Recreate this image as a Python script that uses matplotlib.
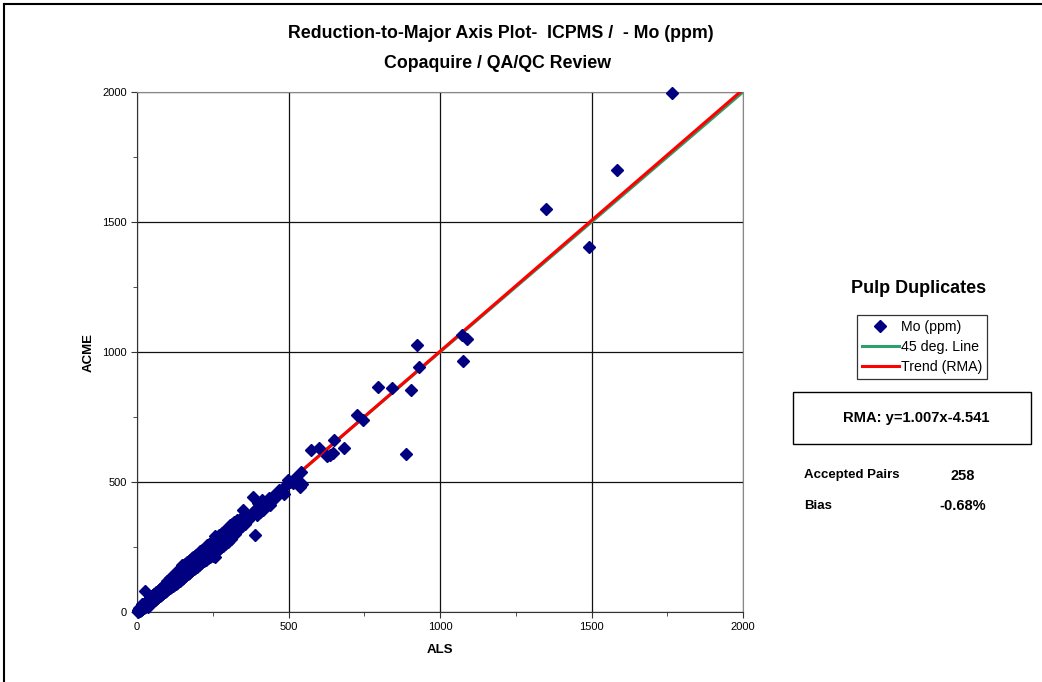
import matplotlib
matplotlib.use('Agg')
import matplotlib.pyplot as plt
from matplotlib.lines import Line2D
from matplotlib.patches import Rectangle
import numpy as np

plt.rcParams['font.family'] = ['Liberation Sans', 'DejaVu Sans']

# ALS (x) vs ACME (y), Mo ppm
als = [2, 3, 4, 5, 6, 7, 8, 9, 10, 11,
       12, 13, 14, 15, 16, 17, 18, 19, 20, 21,
       22, 24, 25, 26, 27, 28, 30, 31, 32, 34,
       35, 36, 38, 40, 41, 43, 45, 46, 48, 50,
       52, 53, 55, 57, 59, 60, 62, 64, 66, 68,
       70, 72, 74, 76, 78, 80, 82, 85, 87, 90,
       92, 95, 97,
       26, 5, 8, 12, 18, 23, 29, 33, 37, 42,
       47, 51, 56, 61, 65, 69, 73, 77, 81, 86,
       91, 96, 99,
       100, 102, 105, 108, 110, 113, 115, 118, 120, 123,
       125, 128, 130, 133, 135, 138, 140, 143, 145, 147,
       148, 150, 153, 155, 158, 160, 163, 165, 168, 170,
       173, 175, 178, 180, 183, 185, 188, 190, 193, 195,
       197, 198, 112, 127, 142, 157, 172, 187,
       200, 204, 208, 212, 216, 220, 224, 228, 232, 235,
       238, 242, 246, 250, 254, 257, 257, 260, 264, 268,
       272, 276, 280, 284, 288, 292, 296, 300, 304, 307,
       310, 314, 317, 320, 325, 330, 235, 248, 262, 286,
       302, 318,
       335, 340, 345, 351, 355, 360, 365, 373, 380, 384,
       389, 392, 395, 400, 405, 411, 417, 422, 428, 435,
       439, 444, 450, 455, 461, 470, 478, 486, 492, 497,
       505, 515, 527, 532, 538, 541, 546, 398, 430, 520,
       574, 601, 628, 637, 648, 650, 684, 725, 747, 795,
       843, 889, 905, 923, 931, 1071, 1076, 1090, 1350, 1492,
       1584, 1766,
       15, 35, 55, 75, 95, 115, 135, 155, 175, 195,
       215, 225, 245, 265, 275, 295, 105, 165, 185, 285]
acme = [4, 1, 8, 2, 10, 3, 14, 5, 16, 6,
        9, 20, 8, 22, 11, 25, 12, 28, 14, 27,
        15, 32, 18, 35, 20, 36, 22, 40, 24, 44,
        26, 46, 28, 50, 31, 54, 35, 57, 38, 60,
        41, 64, 44, 68, 48, 70, 50, 76, 54, 80,
        58, 84, 62, 88, 65, 92, 70, 98, 74, 102,
        78, 108, 82,
        82, 7, 5, 15, 15, 26, 27, 36, 35, 40,
        50, 55, 53, 64, 62, 73, 70, 82, 78, 90,
        87, 100, 95,
        118, 88, 125, 92, 130, 96, 136, 100, 140, 104,
        145, 108, 152, 112, 158, 118, 162, 120, 168, 181,
        126, 175, 132, 180, 138, 186, 142, 192, 146, 196,
        150, 200, 156, 206, 160, 210, 164, 216, 170, 220,
        213, 174, 124, 110, 156, 172, 150, 210,
        224, 180, 236, 190, 240, 195, 248, 200, 256, 206,
        262, 210, 270, 215, 278, 213, 292, 232, 290, 240,
        296, 250, 305, 255, 310, 262, 318, 268, 325, 335,
        280, 340, 303, 345, 300, 355, 252, 230, 275, 270,
        320, 298,
        320, 358, 330, 392, 340, 378, 352, 367, 380, 443,
        296, 395, 373, 420, 385, 431, 392, 425, 410, 440,
        412, 430, 448, 440, 457, 470, 465, 453, 490, 508,
        500, 496, 508, 501, 482, 540, 492, 405, 420, 515,
        623, 629, 600, 604, 610, 660, 630, 756, 738, 866,
        862, 608, 854, 1028, 941, 1065, 966, 1049, 1550, 1404,
        1700, 1996,
        30, 20, 70, 60, 85, 130, 125, 145, 195, 180,
        200, 242, 260, 250, 290, 280, 112, 178, 170, 300]

slope = 1.007
intercept = -4.541
accepted_pairs = 258
bias = '-0.68%'

fig = plt.figure(figsize=(10.42, 6.82), dpi=100)
ax = fig.add_axes([137 / 1042, 70 / 682, 606 / 1042, 520 / 682])

line_x = np.array([0, 2000])
ax.plot(line_x, line_x, color='#2E9E6B', lw=2.2, zorder=3, label='45 deg. Line')
ax.plot(line_x, slope * line_x + intercept, color='#FF0000', lw=2.2, zorder=4, label='Trend (RMA)')
ax.plot(als, acme, 'D', color='#000080', ms=6.3, mec='#000080', zorder=5, label='Mo (ppm)',
        clip_on=False)

ax.set_xlim(0, 2000)
ax.set_ylim(0, 2000)
ax.set_xticks([0, 500, 1000, 1500, 2000])
ax.set_yticks([0, 500, 1000, 1500, 2000])
ax.set_xticks(np.arange(0, 2001, 250), minor=True)
ax.set_yticks(np.arange(0, 2001, 250), minor=True)
ax.tick_params(which='major', length=4, direction='out', labelsize=8, color='#333333')
ax.tick_params(which='minor', length=3, direction='out', color='#333333')
ax.grid(True, which='major', color='#111111', lw=0.9)
ax.set_axisbelow(True)
for s in ['top', 'right']:
    ax.spines[s].set_color('#888888')
for s in ['left', 'bottom']:
    ax.spines[s].set_color('#333333')

ax.set_xlabel('ALS', fontsize=9.5, fontweight='bold', labelpad=8)
ax.set_ylabel('ACME', fontsize=9.5, fontweight='bold', labelpad=5)

fig.text(501 / 1042, 1 - 33 / 682, 'Reduction-to-Major Axis Plot-  ICPMS /  - Mo (ppm)',
         ha='center', va='center', fontsize=12.8, fontweight='bold')
fig.text(498 / 1042, 1 - 63 / 682, 'Copaquire / QA/QC Review',
         ha='center', va='center', fontsize=12.8, fontweight='bold')

# legend / stats panel on the right
fig.text(919 / 1042, 1 - 288 / 682, 'Pulp Duplicates', ha='center', va='center',
         fontsize=13, fontweight='bold')
h, l = ax.get_legend_handles_labels()
order = [2, 0, 1]
leg = ax.legend([h[i] for i in order], [l[i] for i in order], loc='upper left',
                bbox_to_anchor=(857 / 1042, 1 - 315 / 682), bbox_transform=fig.transFigure,
                fontsize=10.2, frameon=True, fancybox=False, handlelength=2.6, handletextpad=0.15,
                borderpad=0.35, labelspacing=0.42, borderaxespad=0)
leg.get_frame().set_edgecolor('black')
leg.get_frame().set_linewidth(0.9)

fig.add_artist(Rectangle((793 / 1042, 1 - 444 / 682), 238 / 1042, 52 / 682,
                         transform=fig.transFigure, fill=False, ec='black', lw=1))
fig.text(916 / 1042, 1 - 418 / 682, f'RMA: y={slope:.3f}x{intercept:.3f}', ha='center',
         va='center', fontsize=10.6, fontweight='bold')
fig.text(804 / 1042, 1 - 475 / 682, 'Accepted Pairs', ha='left', va='center',
         fontsize=9.5, fontweight='bold')
fig.text(963 / 1042, 1 - 476 / 682, str(accepted_pairs), ha='center', va='center',
         fontsize=10.5, fontweight='bold')
fig.text(804 / 1042, 1 - 506 / 682, 'Bias', ha='left', va='center',
         fontsize=9.5, fontweight='bold')
fig.text(963 / 1042, 1 - 506 / 682, bias, ha='center', va='center',
         fontsize=10.5, fontweight='bold')

# outer chart border (left and top edges visible)
fig.add_artist(Line2D([4 / 1042, 4 / 1042], [0, 1 - 4 / 682], transform=fig.transFigure,
                      color='black', lw=1.5))
fig.add_artist(Line2D([4 / 1042, 1], [1 - 4 / 682, 1 - 4 / 682], transform=fig.transFigure,
                      color='black', lw=1.5))

fig.savefig('out.png', dpi=100)
